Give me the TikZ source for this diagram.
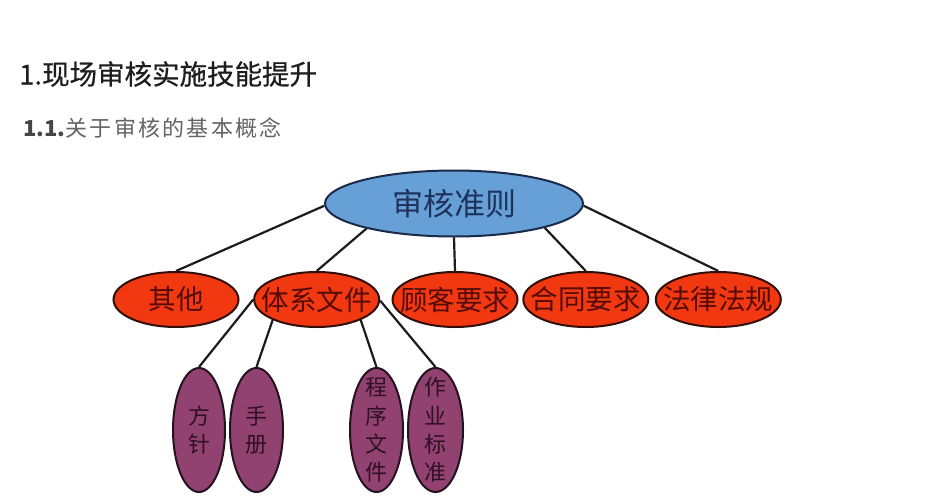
\documentclass[tikz,border=0pt]{standalone}
\usepackage{fontspec}
\setmainfont{Noto Sans CJK SC}
\newfontfamily\cjkspaced[LetterSpace=10.5]{Noto Sans CJK SC}
\newfontfamily\titlefont[FakeBold=0.5]{Noto Sans CJK SC}
\usetikzlibrary{shapes.geometric}
\definecolor{titlecol}{RGB}{30,30,30}
\definecolor{subdark}{RGB}{70,70,70}
\definecolor{subgray}{RGB}{100,100,100}
\definecolor{rootfill}{RGB}{102,160,214}
\definecolor{rootdraw}{RGB}{28,42,74}
\definecolor{roottext}{RGB}{30,50,92}
\definecolor{redfill}{RGB}{242,56,16}
\definecolor{reddraw}{RGB}{50,14,8}
\definecolor{redtext}{RGB}{84,12,8}
\definecolor{purfill}{RGB}{146,66,112}
\definecolor{purdraw}{RGB}{36,18,30}
\definecolor{purtext}{RGB}{48,16,36}
\definecolor{edgecol}{RGB}{28,28,28}
\begin{document}
\begin{tikzpicture}[x=1pt,y=-1pt,
  rootell/.style={ellipse, draw=rootdraw, fill=rootfill, line width=2pt,
    minimum width=258pt, minimum height=66pt, inner sep=0pt,
    text=roottext, font=\fontsize{31}{34}\selectfont},
  redell/.style={ellipse, draw=reddraw, fill=redfill, line width=2pt,
    minimum width=125pt, minimum height=55pt, inner sep=0pt},
  redtxt/.style={text=redtext, font=\fontsize{27.5}{30}\selectfont, inner sep=0pt},
  purell/.style={ellipse, draw=purdraw, fill=purfill, line width=2pt,
    minimum width=53pt, minimum height=124pt, inner sep=0pt},
  purtxt/.style={text=purtext, font=\fontsize{22}{28.3}\selectfont, align=center, inner sep=0pt},
  link/.style={draw=edgecol, line width=2.2pt}]
\path[use as bounding box, fill=white] (0,0) rectangle (928,495);

\node[anchor=west, inner sep=0pt, text=titlecol, font=\titlefont\fontsize{27.5}{32}\selectfont] (title) at (19,74) {1.现场审核实施技能提升};
\node[anchor=west, inner sep=0pt, text=subgray, font=\fontsize{22}{26}\selectfont] (sub) at (23,127.5) {\textcolor{subdark}{\bfseries 1.1.}{\cjkspaced 关于审核的基本概念}};

\node[rootell] (root) at (454,203.5) {审核准则};

\node[redell, label={[redtxt]center:其他}] (qita) at (176,299.5) {};
\node[redell, label={[redtxt]center:体系文件}] (sys) at (316.7,299.5) {};
\node[redell, label={[redtxt]center:顾客要求}] (guke) at (455,299.5) {};
\node[redell, label={[redtxt]center:合同要求}] (hetong) at (585.8,299.5) {};
\node[redell, label={[redtxt]center:法律法规}] (falv) at (718.3,299.5) {};

\node[purell, minimum width=52pt, label={[purtxt]center:方\\针}] (fz) at (199,430) {};
\node[purell, label={[purtxt]center:手\\册}] (sc) at (256.5,430) {};
\node[purell, label={[purtxt]center:程\\序\\文\\件}] (cx) at (376.5,430) {};
\node[purell, minimum width=55pt, label={[purtxt]center:作\\业\\标\\准}] (zy) at (435.5,430) {};

\draw[link] (root.181) -- (qita.north);
\draw[link] (root.196) -- (sys.north);
\draw[link] (root.270) -- (guke.north);
\draw[link] (root.345) -- (hetong.north);
\draw[link] (root.359) -- (falv.north);

\draw[link] (sys.180) -- (fz.north);
\draw[link] (sys.205) -- (sc.north);
\draw[link] (sys.335) -- (cx.north);
\draw[link] (sys.359) -- (zy.north);
\end{tikzpicture}
\end{document}
